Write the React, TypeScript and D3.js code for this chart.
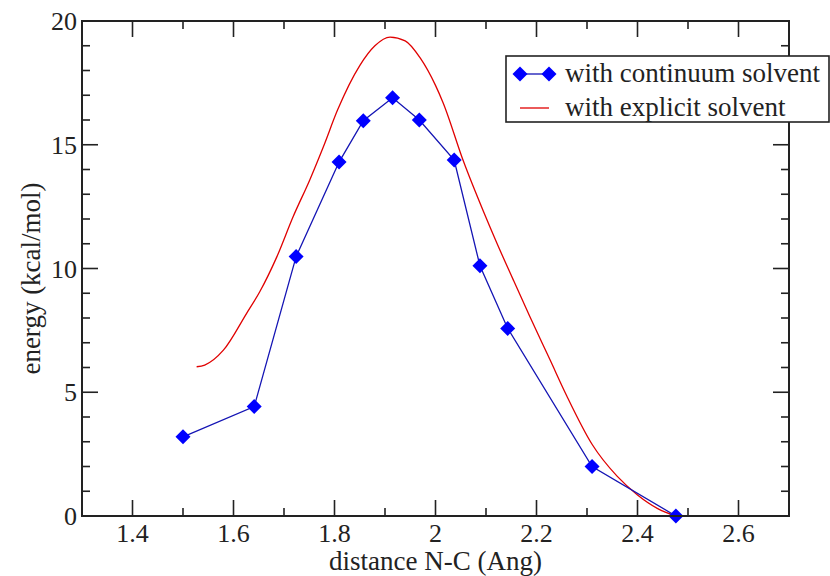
import React from 'react';
import * as d3 from 'd3';

// blue series: with continuum solvent
const continuumX = [1.5, 1.641, 1.724, 1.809, 1.857, 1.915, 1.968, 2.037, 2.088, 2.143, 2.31, 2.476];
const continuumY = [3.2, 4.42, 10.48, 14.3, 15.97, 16.9, 16.0, 14.38, 10.11, 7.58, 2.0, 0.0];

// red series: with explicit solvent
const explicitX = [1.527, 1.543, 1.58, 1.626, 1.652, 1.686, 1.718, 1.751, 1.778, 1.806, 1.85, 1.88, 1.91, 1.94, 1.97, 2.0, 2.015, 2.055, 2.095, 2.121, 2.154, 2.187, 2.227, 2.26, 2.31, 2.36, 2.4, 2.44, 2.476];
const explicitY = [6.03, 6.1, 6.7, 8.19, 9.06, 10.48, 12.09, 13.58, 14.92, 16.4, 18.2, 19.0, 19.35, 19.2, 18.5, 17.4, 16.7, 14.35, 12.3, 11.05, 9.54, 8.05, 6.3, 4.85, 2.9, 1.6, 0.85, 0.3, 0.0];

const xMajorTicks = [1.4, 1.6, 1.8, 2.0, 2.2, 2.4, 2.6];
const xTickLabels = ['1.4', '1.6', '1.8', '2', '2.2', '2.4', '2.6'];
const yMajorTicks = [0, 5, 10, 15, 20];
const legendLabels = ['with continuum solvent', 'with explicit solvent'];
const xTitle = 'distance N-C (Ang)';
const yTitle = 'energy (kcal/mol)';

const W = 830, H = 576;
const L = 82, R = 789, T = 21, B = 516;
const FONT = "'Liberation Serif', 'Times New Roman', Times, 'DejaVu Serif', serif";

export default function App() {
  const x = d3.scaleLinear().domain([1.3, 2.7]).range([L, R]);
  const y = d3.scaleLinear().domain([0, 20]).range([B, T]);

  const xMinor = d3.range(13, 28).map((v) => v / 10).filter((v) => !xMajorTicks.some((m) => Math.abs(m - v) < 1e-6));
  const yMinor = d3.range(0, 21).filter((v) => v % 5 !== 0);

  const blueData = continuumX.map((v, i) => [v, continuumY[i]] as [number, number]);
  const redData = explicitX.map((v, i) => [v, explicitY[i]] as [number, number]);

  const blueLine = d3.line<[number, number]>().x((d) => x(d[0])).y((d) => y(d[1]));
  const redLine = d3.line<[number, number]>().x((d) => x(d[0])).y((d) => y(d[1])).curve(d3.curveMonotoneX);

  const MAJ = 16, MIN = 8;
  const axisColor = '#222';
  const diamond = (cx: number, cy: number, r: number) =>
    `M${cx},${cy - r}L${cx + r},${cy}L${cx},${cy + r}L${cx - r},${cy}Z`;
  const ts = { fontFamily: FONT };

  return (
    <svg width={W} height={H} style={{ position: 'absolute', left: 0, top: 0, background: '#fff' }}>
      <rect x={0} y={0} width={W} height={H} fill="#fff" />
      {/* series */}
      <path d={redLine(redData) || ''} fill="none" stroke="#e00000" strokeWidth={1.3} />
      <path d={blueLine(blueData) || ''} fill="none" stroke="#1414b4" strokeWidth={1.3} />
      {blueData.map((d, i) => (
        <path key={i} d={diamond(x(d[0]), y(d[1]), 7.5)} fill="#0000ff" />
      ))}

      {/* frame */}
      <rect x={L} y={T} width={R - L} height={B - T} fill="none" stroke={axisColor} strokeWidth={2} />
      {xMajorTicks.map((v) => (
        <g key={'xm' + v}>
          <line x1={x(v)} x2={x(v)} y1={B} y2={B - MAJ} stroke={axisColor} strokeWidth={1.6} />
          <line x1={x(v)} x2={x(v)} y1={T} y2={T + MAJ} stroke={axisColor} strokeWidth={1.6} />
        </g>
      ))}
      {xMinor.map((v) => (
        <g key={'xn' + v}>
          <line x1={x(v)} x2={x(v)} y1={B} y2={B - MIN} stroke={axisColor} strokeWidth={1.6} />
          <line x1={x(v)} x2={x(v)} y1={T} y2={T + MIN} stroke={axisColor} strokeWidth={1.6} />
        </g>
      ))}
      {xMajorTicks.map((v, i) => (
        <text key={'xl' + v} x={x(v)} y={542} textAnchor="middle" fontSize={26} fill="#222" style={ts}>
          {xTickLabels[i]}
        </text>
      ))}
      {yMajorTicks.map((v) => (
        <g key={'ym' + v}>
          <line x1={L} x2={L + MAJ} y1={y(v)} y2={y(v)} stroke={axisColor} strokeWidth={1.6} />
          <line x1={R} x2={R - MAJ} y1={y(v)} y2={y(v)} stroke={axisColor} strokeWidth={1.6} />
        </g>
      ))}
      {yMinor.map((v) => (
        <g key={'yn' + v}>
          <line x1={L} x2={L + MIN} y1={y(v)} y2={y(v)} stroke={axisColor} strokeWidth={1.6} />
          <line x1={R} x2={R - MIN} y1={y(v)} y2={y(v)} stroke={axisColor} strokeWidth={1.6} />
        </g>
      ))}
      {yMajorTicks.map((v) => (
        <text key={'yl' + v} x={77} y={y(v) + 9} textAnchor="end" fontSize={26} fill="#222" style={ts}>
          {String(v)}
        </text>
      ))}

      {/* axis titles */}
      <text x={(L + R) / 2} y={570} textAnchor="middle" fontSize={27} fill="#222" style={ts}>
        {xTitle}
      </text>
      <text transform={`translate(40,${(T + B) / 2 + 10}) rotate(-90)`} textAnchor="middle" fontSize={27} fill="#222" style={ts}>
        {yTitle}
      </text>

      {/* legend */}
      <rect x={506} y={56} width={323} height={66} fill="#fff" stroke={axisColor} strokeWidth={1.6} />
      <line x1={520} x2={549} y1={74} y2={74} stroke="#1414b4" strokeWidth={1.3} />
      <path d={diamond(520, 74, 7.5)} fill="#0000ff" />
      <path d={diamond(549, 74, 7.5)} fill="#0000ff" />
      <text x={565} y={82} fontSize={27} fill="#222" style={ts}>{legendLabels[0]}</text>
      <line x1={520} x2={549} y1={108} y2={108} stroke="#e00000" strokeWidth={1.3} />
      <text x={565} y={116} fontSize={27} fill="#222" style={ts}>{legendLabels[1]}</text>
    </svg>
  );
}
